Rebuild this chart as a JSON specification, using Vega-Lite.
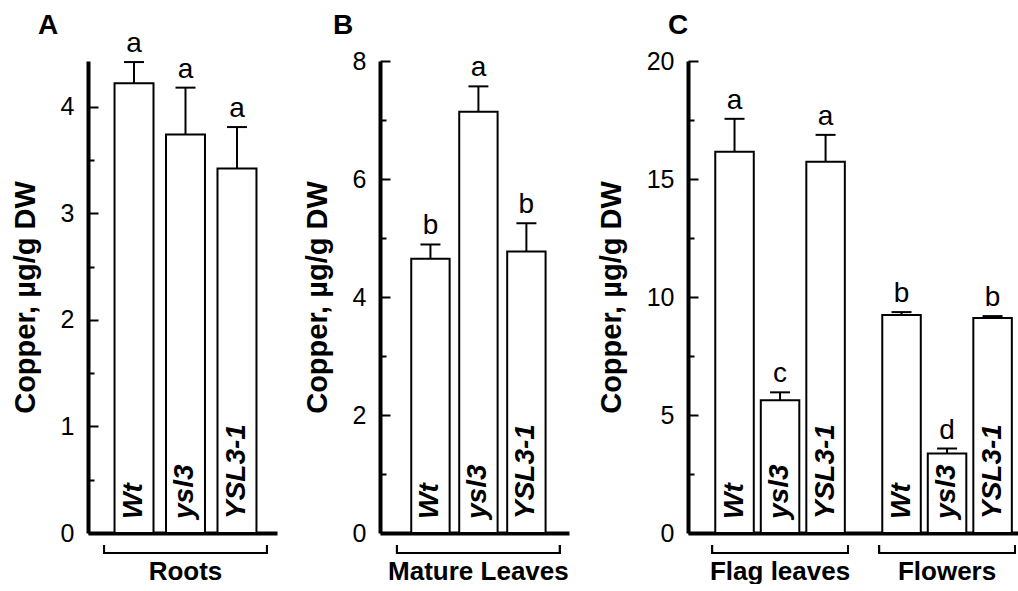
{
  "$schema": "https://vega.github.io/schema/vega-lite/v6.json",
  "background": "white",
  "padding": {"left": 11, "top": 12, "right": 0, "bottom": 0},
  "autosize": {"type": "pad"},
  "bounds": "flush",
  "spacing": 103,
  "resolve": {"scale": {"x": "independent", "xOffset": "independent", "y": "independent"}},
  "config": {
    "font": "Liberation Sans",
    "view": {"stroke": null},
    "axis": {"domainColor": "black", "tickColor": "black", "labelColor": "black", "titleColor": "black", "grid": false},
    "axisY": {"domainWidth": 4, "labelFontSize": 25, "labelFontWeight": "normal", "titleFontSize": 29, "titleFontWeight": "bold", "titlePadding": 20, "format": "d"},
    "axisX": {"domainWidth": 4, "labelFontSize": 26, "labelFontWeight": "bold", "labelPadding": 38, "labelBaseline": "middle", "labelAngle": 0, "labelLimit": 0},
    "title": {"color": "black", "fontSize": 28, "fontWeight": "bold", "anchor": "start", "frame": "group", "offset": 9}
  },
  "hconcat": [
    {
      "width": 189, "height": 472,
      "title": {"text": "A", "dx": -50, "dy": 19},
      "resolve": {"axis": {"y": "independent"}},
      "data": {"values": [
        {"group": "Roots", "genotype": "Wt", "mean": 4.22, "upper": 4.42, "letter": "a"},
        {"group": "Roots", "genotype": "ysl3", "mean": 3.74, "upper": 4.18, "letter": "a"},
        {"group": "Roots", "genotype": "YSL3-1", "mean": 3.42, "upper": 3.81, "letter": "a"}
      ]},
      "layer": [
        {
          "mark": {"type": "bar", "fill": "white", "stroke": "black", "strokeWidth": 2},
          "encoding": {
            "x": {"field": "group", "type": "nominal", "title": null, "scale": {"paddingInner": 0, "paddingOuter": 0.08, "align": 0.615}, "axis": {"ticks": false}},
            "xOffset": {"field": "genotype", "type": "nominal", "sort": ["Wt", "ysl3", "YSL3-1"], "scale": {"paddingInner": 0.243, "paddingOuter": 0.204}},
            "y": {"field": "mean", "type": "quantitative", "scale": {"domain": [0, 4.43], "nice": false}, "axis": {
              "title": "Copper, µg/g DW", "orient": "left",
              "values": [0, 1, 2, 3, 4],
              "ticks": false, "labelPadding": 14
            }}
          }
        },
        {
          "mark": {"type": "rule", "strokeWidth": 2, "color": "black"},
          "encoding": {
            "x": {"field": "group", "type": "nominal"},
            "xOffset": {"field": "genotype", "type": "nominal", "sort": ["Wt", "ysl3", "YSL3-1"]},
            "y": {"field": "mean", "type": "quantitative", "axis": {
              "orient": "left", "offset": -10, "title": null, "domain": false, "labels": false,
              "values": [0, 0.5, 1, 1.5, 2, 2.5, 3, 3.5, 4],
              "ticks": true, "tickSize": 10, "tickWidth": 2, "tickColor": "black",
              "tickDash": {"condition": {"test": "datum.value % 1 !== 0", "value": [0, 4, 6, 30]}, "value": [10, 0]}
            }},
            "y2": {"field": "upper"}
          }
        },
        {
          "mark": {"type": "tick", "orient": "horizontal", "size": 20, "thickness": 2, "color": "black", "opacity": 1},
          "encoding": {
            "x": {"field": "group", "type": "nominal"},
            "xOffset": {"field": "genotype", "type": "nominal", "sort": ["Wt", "ysl3", "YSL3-1"]},
            "y": {"field": "upper", "type": "quantitative", "axis": null}
          }
        },
        {
          "mark": {"type": "text", "fontSize": 28, "baseline": "alphabetic", "yOffset": -10, "color": "black"},
          "encoding": {
            "x": {"field": "group", "type": "nominal"},
            "xOffset": {"field": "genotype", "type": "nominal", "sort": ["Wt", "ysl3", "YSL3-1"]},
            "y": {"field": "upper", "type": "quantitative", "axis": null},
            "text": {"field": "letter"}
          }
        },
        {
          "mark": {"type": "text", "fontSize": 28, "fontWeight": "bold", "fontStyle": "italic", "angle": 270, "align": "left", "baseline": "middle", "yOffset": -14, "color": "black"},
          "encoding": {
            "x": {"field": "group", "type": "nominal"},
            "xOffset": {"field": "genotype", "type": "nominal", "sort": ["Wt", "ysl3", "YSL3-1"]},
            "y": {"datum": 0, "axis": null},
            "text": {"field": "genotype"}
          }
        },
        {
          "mark": {"type": "rule", "strokeWidth": 2, "color": "black", "yOffset": 20},
          "encoding": {
            "x": {"field": "group", "type": "nominal", "bandPosition": 0},
            "x2": {"field": "group", "bandPosition": 1},
            "y": {"datum": 0, "axis": null}
          }
        },
        {
          "mark": {"type": "rule", "strokeWidth": 2, "color": "black", "yOffset": 12, "y2Offset": 21},
          "encoding": {
            "x": {"field": "group", "type": "nominal", "bandPosition": 0},
            "y": {"datum": 0, "axis": null},
            "y2": {"datum": 0}
          }
        },
        {
          "mark": {"type": "rule", "strokeWidth": 2, "color": "black", "yOffset": 12, "y2Offset": 21},
          "encoding": {
            "x": {"field": "group", "type": "nominal", "bandPosition": 1},
            "y": {"datum": 0, "axis": null},
            "y2": {"datum": 0}
          }
        }
      ]
    },
    {
      "bounds": "flush",
      "spacing": 119,
      "resolve": {"scale": {"x": "independent", "xOffset": "independent", "y": "independent"}},
      "hconcat": [
        {
          "width": 189, "height": 472,
          "title": {"text": "B", "dx": -47},
          "resolve": {"axis": {"y": "independent"}},
          "data": {"values": [
            {"group": "Mature Leaves", "genotype": "Wt", "mean": 4.65, "upper": 4.89, "letter": "b"},
            {"group": "Mature Leaves", "genotype": "ysl3", "mean": 7.14, "upper": 7.57, "letter": "a"},
            {"group": "Mature Leaves", "genotype": "YSL3-1", "mean": 4.77, "upper": 5.25, "letter": "b"}
          ]},
          "layer": [
            {
              "mark": {"type": "bar", "fill": "white", "stroke": "black", "strokeWidth": 2},
              "encoding": {
                "x": {"field": "group", "type": "nominal", "title": null, "scale": {"paddingInner": 0, "paddingOuter": 0.08, "align": 0.65}, "axis": {"ticks": false}},
                "xOffset": {"field": "genotype", "type": "nominal", "sort": ["Wt", "ysl3", "YSL3-1"], "scale": {"paddingInner": 0.2, "paddingOuter": 0.298}},
                "y": {"field": "mean", "type": "quantitative", "scale": {"domain": [0, 8], "nice": false}, "axis": {
                  "title": "Copper, µg/g DW", "orient": "left",
                  "values": [0, 2, 4, 6, 8],
                  "ticks": false, "labelPadding": 14
                }}
              }
            },
            {
              "mark": {"type": "rule", "strokeWidth": 2, "color": "black"},
              "encoding": {
                "x": {"field": "group", "type": "nominal"},
                "xOffset": {"field": "genotype", "type": "nominal", "sort": ["Wt", "ysl3", "YSL3-1"]},
                "y": {"field": "mean", "type": "quantitative", "axis": {
                  "orient": "left", "offset": -10, "title": null, "domain": false, "labels": false,
                  "values": [0, 1, 2, 3, 4, 5, 6, 7, 8],
                  "ticks": true, "tickSize": 10, "tickWidth": 2, "tickColor": "black",
                  "tickDash": {"condition": {"test": "datum.value % 2 !== 0", "value": [0, 4, 6, 30]}, "value": [10, 0]}
                }},
                "y2": {"field": "upper"}
              }
            },
            {
              "mark": {"type": "tick", "orient": "horizontal", "size": 20, "thickness": 2, "color": "black", "opacity": 1},
              "encoding": {
                "x": {"field": "group", "type": "nominal"},
                "xOffset": {"field": "genotype", "type": "nominal", "sort": ["Wt", "ysl3", "YSL3-1"]},
                "y": {"field": "upper", "type": "quantitative", "axis": null}
              }
            },
            {
              "mark": {"type": "text", "fontSize": 28, "baseline": "alphabetic", "yOffset": -10, "color": "black"},
              "encoding": {
                "x": {"field": "group", "type": "nominal"},
                "xOffset": {"field": "genotype", "type": "nominal", "sort": ["Wt", "ysl3", "YSL3-1"]},
                "y": {"field": "upper", "type": "quantitative", "axis": null},
                "text": {"field": "letter"}
              }
            },
            {
              "mark": {"type": "text", "fontSize": 28, "fontWeight": "bold", "fontStyle": "italic", "angle": 270, "align": "left", "baseline": "middle", "yOffset": -14, "color": "black"},
              "encoding": {
                "x": {"field": "group", "type": "nominal"},
                "xOffset": {"field": "genotype", "type": "nominal", "sort": ["Wt", "ysl3", "YSL3-1"]},
                "y": {"datum": 0, "axis": null},
                "text": {"field": "genotype"}
              }
            },
            {
              "mark": {"type": "rule", "strokeWidth": 2, "color": "black", "yOffset": 20},
              "encoding": {
                "x": {"field": "group", "type": "nominal", "bandPosition": 0},
                "x2": {"field": "group", "bandPosition": 1},
                "y": {"datum": 0, "axis": null}
              }
            },
            {
              "mark": {"type": "rule", "strokeWidth": 2, "color": "black", "yOffset": 12, "y2Offset": 21},
              "encoding": {
                "x": {"field": "group", "type": "nominal", "bandPosition": 0},
                "y": {"datum": 0, "axis": null},
                "y2": {"datum": 0}
              }
            },
            {
              "mark": {"type": "rule", "strokeWidth": 2, "color": "black", "yOffset": 12, "y2Offset": 21},
              "encoding": {
                "x": {"field": "group", "type": "nominal", "bandPosition": 1},
                "y": {"datum": 0, "axis": null},
                "y2": {"datum": 0}
              }
            }
          ]
        },
        {
          "width": 330, "height": 472,
          "title": {"text": "C", "dx": -20},
          "resolve": {"axis": {"y": "independent"}},
          "data": {"values": [
            {"group": "Flag leaves", "genotype": "Wt", "mean": 16.15, "upper": 17.55, "letter": "a"},
            {"group": "Flag leaves", "genotype": "ysl3", "mean": 5.62, "upper": 5.96, "letter": "c"},
            {"group": "Flag leaves", "genotype": "YSL3-1", "mean": 15.73, "upper": 16.87, "letter": "a"},
            {"group": "Flowers", "genotype": "Wt", "mean": 9.24, "upper": 9.36, "letter": "b"},
            {"group": "Flowers", "genotype": "ysl3", "mean": 3.37, "upper": 3.58, "letter": "d"},
            {"group": "Flowers", "genotype": "YSL3-1", "mean": 9.11, "upper": 9.19, "letter": "b"}
          ]},
          "layer": [
            {
              "mark": {"type": "bar", "fill": "white", "stroke": "black", "strokeWidth": 2},
              "encoding": {
                "x": {"field": "group", "type": "nominal", "title": null, "sort": ["Flag leaves", "Flowers"], "scale": {"paddingInner": 0.186, "paddingOuter": 0.081, "align": 0.89}, "axis": {"ticks": false}},
                "xOffset": {"field": "genotype", "type": "nominal", "sort": ["Wt", "ysl3", "YSL3-1"], "scale": {"paddingInner": 0.154, "paddingOuter": 0.07}},
                "y": {"field": "mean", "type": "quantitative", "scale": {"domain": [0, 20], "nice": false}, "axis": {
                  "title": "Copper, µg/g DW", "orient": "left",
                  "values": [0, 5, 10, 15, 20],
                  "ticks": false, "labelPadding": 14
                }}
              }
            },
            {
              "mark": {"type": "rule", "strokeWidth": 2, "color": "black"},
              "encoding": {
                "x": {"field": "group", "type": "nominal", "sort": ["Flag leaves", "Flowers"]},
                "xOffset": {"field": "genotype", "type": "nominal", "sort": ["Wt", "ysl3", "YSL3-1"]},
                "y": {"field": "mean", "type": "quantitative", "axis": {
                  "orient": "left", "offset": -10, "title": null, "domain": false, "labels": false,
                  "values": [0, 2.5, 5, 7.5, 10, 12.5, 15, 17.5, 20],
                  "ticks": true, "tickSize": 10, "tickWidth": 2, "tickColor": "black",
                  "tickDash": {"condition": {"test": "datum.value % 5 !== 0", "value": [0, 4, 6, 30]}, "value": [10, 0]}
                }},
                "y2": {"field": "upper"}
              }
            },
            {
              "mark": {"type": "tick", "orient": "horizontal", "size": 20, "thickness": 2, "color": "black", "opacity": 1},
              "encoding": {
                "x": {"field": "group", "type": "nominal", "sort": ["Flag leaves", "Flowers"]},
                "xOffset": {"field": "genotype", "type": "nominal", "sort": ["Wt", "ysl3", "YSL3-1"]},
                "y": {"field": "upper", "type": "quantitative", "axis": null}
              }
            },
            {
              "mark": {"type": "text", "fontSize": 28, "baseline": "alphabetic", "yOffset": -10, "color": "black"},
              "encoding": {
                "x": {"field": "group", "type": "nominal", "sort": ["Flag leaves", "Flowers"]},
                "xOffset": {"field": "genotype", "type": "nominal", "sort": ["Wt", "ysl3", "YSL3-1"]},
                "y": {"field": "upper", "type": "quantitative", "axis": null},
                "text": {"field": "letter"}
              }
            },
            {
              "mark": {"type": "text", "fontSize": 28, "fontWeight": "bold", "fontStyle": "italic", "angle": 270, "align": "left", "baseline": "middle", "yOffset": -14, "color": "black"},
              "encoding": {
                "x": {"field": "group", "type": "nominal", "sort": ["Flag leaves", "Flowers"]},
                "xOffset": {"field": "genotype", "type": "nominal", "sort": ["Wt", "ysl3", "YSL3-1"]},
                "y": {"datum": 0, "axis": null},
                "text": {"field": "genotype"}
              }
            },
            {
              "mark": {"type": "rule", "strokeWidth": 2, "color": "black", "yOffset": 20},
              "encoding": {
                "x": {"field": "group", "type": "nominal", "sort": ["Flag leaves", "Flowers"], "bandPosition": 0},
                "x2": {"field": "group", "bandPosition": 1},
                "y": {"datum": 0, "axis": null}
              }
            },
            {
              "mark": {"type": "rule", "strokeWidth": 2, "color": "black", "yOffset": 12, "y2Offset": 21},
              "encoding": {
                "x": {"field": "group", "type": "nominal", "sort": ["Flag leaves", "Flowers"], "bandPosition": 0},
                "y": {"datum": 0, "axis": null},
                "y2": {"datum": 0}
              }
            },
            {
              "mark": {"type": "rule", "strokeWidth": 2, "color": "black", "yOffset": 12, "y2Offset": 21},
              "encoding": {
                "x": {"field": "group", "type": "nominal", "sort": ["Flag leaves", "Flowers"], "bandPosition": 1},
                "y": {"datum": 0, "axis": null},
                "y2": {"datum": 0}
              }
            }
          ]
        }
      ]
    }
  ]
}
